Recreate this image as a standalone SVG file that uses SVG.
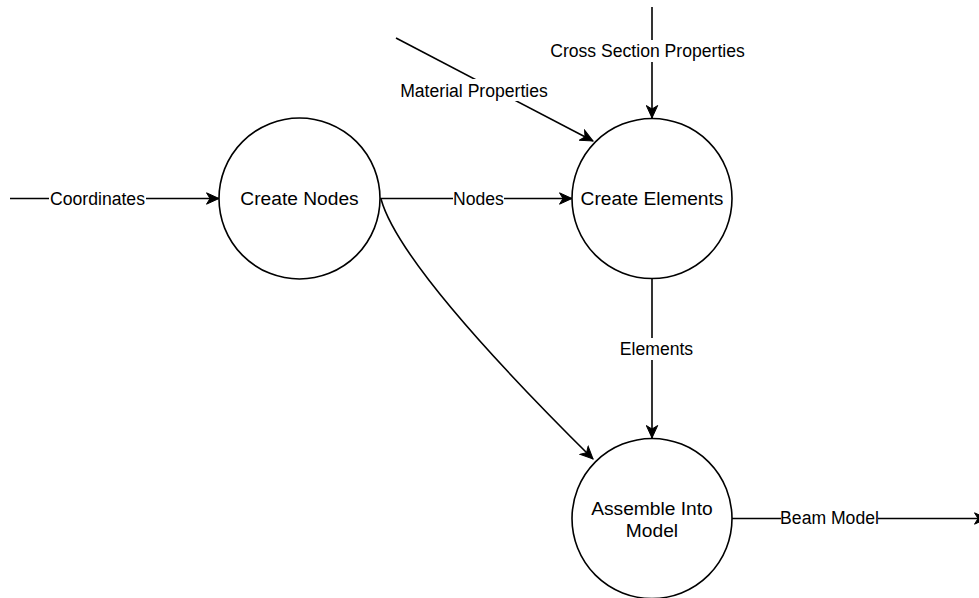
<svg xmlns="http://www.w3.org/2000/svg" width="979" height="598" viewBox="0 0 979 598">
<style>
.node circle{fill:#fff;stroke:#000;stroke-width:1.6}
.node text{font-family:"Liberation Sans",Arial,sans-serif;font-size:19.2px;fill:#000;text-anchor:middle}
.edge{fill:none;stroke:#000;stroke-width:1.6;marker-end:url(#arr)}
.lbl{font-family:"Liberation Sans",Arial,sans-serif;font-size:17.6px;fill:#000;text-anchor:middle}
.lblbg{fill:#fff}
</style>
<defs>
<marker id="arr" markerUnits="userSpaceOnUse" markerWidth="15" markerHeight="13" refX="13" refY="6.5" orient="auto" viewBox="0 0 15 13">
<path d="M0.5,0.8 L13,6.5 L0.5,12.2 L4,6.5 Z" fill="#000" stroke="#000" stroke-width="1"/>
</marker>
</defs>
<rect width="979" height="598" fill="#fff"/>
<g id="connectors">
<path class="edge" d="M10,198.5 L219,198.5"/>
<path class="edge" d="M380,198.5 L572,198.5"/>
<path class="edge" d="M396,38 L593,141"/>
<path class="edge" d="M652,7 L652,118"/>
<path class="edge" d="M652,278 L652,438"/>
<path class="edge" d="M381,199 Q400,268 593,459"/>
<path class="edge" d="M732,518.5 L987,518.5"/>
<rect class="lblbg" x="49" y="189" width="97" height="19"/>
<text class="lbl" x="97.5" y="205">Coordinates</text>
<rect class="lblbg" x="453" y="189" width="51" height="19"/>
<text class="lbl" x="478.5" y="205">Nodes</text>
<rect class="lblbg" x="399" y="79" width="150" height="22"/>
<text class="lbl" x="474" y="97">Material Properties</text>
<rect class="lblbg" x="550" y="40" width="195" height="22"/>
<text class="lbl" x="647.5" y="57">Cross Section Properties</text>
<rect class="lblbg" x="619" y="338" width="76" height="22"/>
<text class="lbl" x="656.5" y="355">Elements</text>
<rect class="lblbg" x="781" y="509" width="97" height="19"/>
<text class="lbl" x="829.5" y="524">Beam Model</text>
</g>
<g id="create-nodes" class="node">
<circle cx="299.5" cy="198.5" r="80.5"/>
<text x="299.5" y="205">Create Nodes</text>
</g>
<g id="create-elements" class="node">
<circle cx="652" cy="198.5" r="80"/>
<text x="652" y="205">Create Elements</text>
</g>
<g id="assemble-into-model" class="node">
<circle cx="652" cy="518.5" r="80"/>
<text x="652" y="515">Assemble Into</text>
<text x="652" y="537">Model</text>
</g>
</svg>
